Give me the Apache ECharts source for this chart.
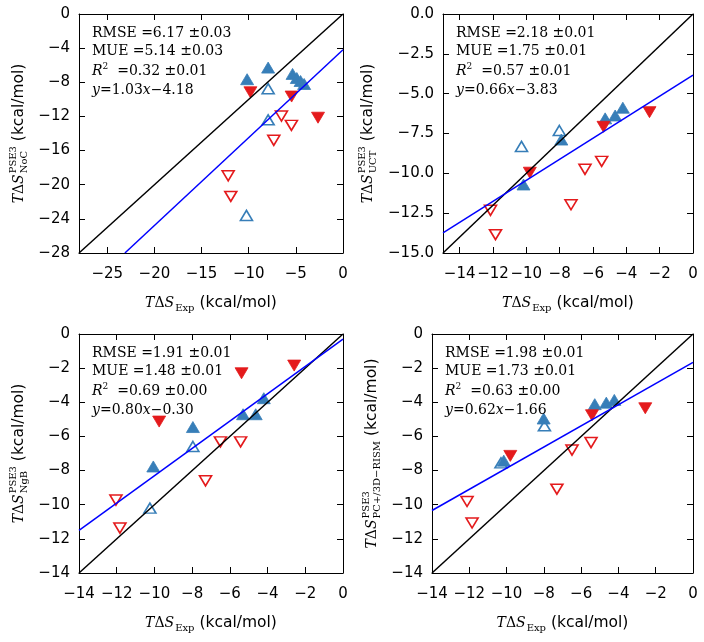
<!DOCTYPE html>
<html><head><meta charset="utf-8">
<script src="https://cdn.jsdelivr.net/npm/echarts@6/dist/echarts.min.js"></script>
<style>html,body{margin:0;padding:0;background:#fff}#c{width:704px;height:642px}</style>
</head><body><div id="c"></div>
<script>
// ---------------- data ----------------
const p1BlueFilled = [[-10.17,-7.64],[-7.94,-6.28],[-5.35,-7.02],[-4.9,-7.5],[-4.5,-7.85],[-4.12,-8.2]];
const p1BlueOpen   = [[-7.94,-8.75],[-7.94,-12.4],[-10.24,-23.6]];
const p1RedFilled  = [[-9.82,-9.17],[-5.45,-9.67],[-2.65,-12.15]];
const p1RedOpen    = [[-6.53,-11.95],[-5.47,-13.05],[-7.34,-14.8],[-12.18,-18.95],[-11.9,-21.37]];
const p1Fit  = [[-23.13,-28],[0,-4.18]];
const p1Diag = [[-28,-28],[0,0]];

const p2BlueFilled = [[-10.17,-10.7],[-7.9,-7.88],[-5.27,-6.55],[-4.67,-6.37],[-4.21,-5.88]];
const p2BlueOpen   = [[-8.02,-7.31],[-10.29,-8.31]];
const p2RedFilled  = [[-9.79,-9.96],[-5.37,-7.08],[-2.61,-6.16]];
const p2RedOpen    = [[-6.48,-9.75],[-5.48,-9.25],[-7.32,-11.97],[-12.15,-12.32],[-11.85,-13.85]];
const p2Fit  = [[-15,-13.73],[0,-3.83]];
const p2Diag = [[-15,-15],[0,0]];

const p3BlueFilled = [[-10.06,-7.76],[-7.96,-5.45],[-5.3,-4.7],[-4.63,-4.7],[-4.2,-3.76]];
const p3BlueOpen   = [[-7.96,-6.59],[-10.24,-10.2]];
const p3RedFilled  = [[-5.38,-2.3],[-2.59,-1.85],[-9.75,-5.13]];
const p3RedOpen    = [[-12.04,-9.73],[-11.83,-11.37],[-7.29,-8.6],[-6.5,-6.32],[-5.43,-6.32]];
const p3Fit  = [[-14,-11.5],[0,-0.3]];
const p3Diag = [[-14,-14],[0,0]];

const p4BlueFilled = [[-10.15,-7.42],[-8.01,-4.95],[-5.27,-4.11],[-4.65,-4.02],[-4.22,-3.86]];
const p4BlueOpen   = [[-7.97,-5.38],[-10.3,-7.55]];
const p4RedFilled  = [[-9.8,-7.14],[-5.42,-4.76],[-2.56,-4.35]];
const p4RedOpen    = [[-6.49,-6.8],[-5.47,-6.36],[-7.3,-9.09],[-12.12,-9.81],[-11.85,-11.07]];
const p4Fit  = [[-14,-10.34],[0,-1.66]];
const p4Diag = [[-14,-14],[0,0]];

// tick values
const p1XTicks = [-25,-20,-15,-10,-5,0];
const p1YTicks = [-28,-24,-20,-16,-12,-8,-4,0];
const p2XTicks = [-14,-12,-10,-8,-6,-4,-2,0];
const p2YTicks = [-15,-12.5,-10,-7.5,-5,-2.5,0];
const p34Ticks = [-14,-12,-10,-8,-6,-4,-2,0];

// statistics text
const p1Stats = ['6.17','0.03','5.14','0.03','0.32','0.01','1.03','4.18'];
const p2Stats = ['2.18','0.01','1.75','0.01','0.57','0.01','0.66','3.83'];
const p3Stats = ['1.91','0.01','1.48','0.01','0.69','0.00','0.80','0.30'];
const p4Stats = ['1.98','0.01','1.73','0.01','0.63','0.00','0.62','1.66'];

const ySubs = ['NoC','UCT','NgB','PC+/3D\u2212RISM'];
const ySup = 'PSE3';
const xSub = 'Exp';
const unitText = '(kcal/mol)';

// ---------------- layout / style ----------------
const grids = [
  {left:79, top:14, width:264, height:239},
  {left:443, top:14, width:250, height:239},
  {left:79, top:334, width:264, height:239},
  {left:432, top:334, width:261, height:239}
];
const panels = [
  {blueF:p1BlueFilled, blueO:p1BlueOpen, redF:p1RedFilled, redO:p1RedOpen, fit:p1Fit, diag:p1Diag,
   xr:[-28,0], yr:[-28,0], xt:p1XTicks, yt:p1YTicks, yd:0, stats:p1Stats, ytx:19},
  {blueF:p2BlueFilled, blueO:p2BlueOpen, redF:p2RedFilled, redO:p2RedOpen, fit:p2Fit, diag:p2Diag,
   xr:[-15,0], yr:[-15,0], xt:p2XTicks, yt:p2YTicks, yd:1, stats:p2Stats, ytx:368},
  {blueF:p3BlueFilled, blueO:p3BlueOpen, redF:p3RedFilled, redO:p3RedOpen, fit:p3Fit, diag:p3Diag,
   xr:[-14,0], yr:[-14,0], xt:p34Ticks, yt:p34Ticks, yd:0, stats:p3Stats, ytx:19},
  {blueF:p4BlueFilled, blueO:p4BlueOpen, redF:p4RedFilled, redO:p4RedOpen, fit:p4Fit, diag:p4Diag,
   xr:[-14,0], yr:[-14,0], xt:p34Ticks, yt:p34Ticks, yd:0, stats:p4Stats, ytx:372}
];

const BLUE = '#377eb8', RED = '#e41a1c';
const SERIF = '"DejaVu Serif"';
const SANS = '"DejaVu Sans"';

function fmt(v, d) {
  let s = d ? v.toFixed(d) : String(v);
  return s.replace('-', '\u2212');
}
function axis(gridIndex, pos, range, ticks, dec, showLabel, isX) {
  return {
    type:'value', gridIndex, position:pos, min:range[0], max:range[1],
    axisLine:{show:true, onZero:false, lineStyle:{color:'#000', width:1}},
    axisTick:{show:true, inside:true, length:6, customValues:ticks, lineStyle:{color:'#000', width:1}},
    axisLabel:{show:showLabel, customValues:ticks, margin: isX ? 14 : 9, color:'#000',
      fontFamily:SANS, fontSize:15, formatter:(v)=>fmt(v, dec)},
    splitLine:{show:false}
  };
}

const xAxes = [], yAxes = [], series = [];
panels.forEach((p, i) => {
  xAxes.push(axis(i, 'bottom', p.xr, p.xt, 0, true, true));
  xAxes.push(axis(i, 'top', p.xr, p.xt, 0, false, true));
  yAxes.push(axis(i, 'left', p.yr, p.yt, p.yd, true, false));
  yAxes.push(axis(i, 'right', p.yr, p.yt, p.yd, false, false));
  const xi = 2*i, yi = 2*i;
  const sc = (data, filled, color, down) => ({
    type:'scatter', xAxisIndex:xi, yAxisIndex:yi, data, symbol:'triangle',
    symbolSize: filled ? [13,11] : [12,10],
    symbolRotate: down ? 180 : 0, silent:true, z:2,
    itemStyle: filled ? {color, borderColor:color, borderWidth:0.8, opacity:1}
                      : {color:'rgba(0,0,0,0)', borderColor:color, borderWidth:1.6, opacity:1}
  });
  series.push(sc(p.blueF, true, BLUE, false));
  series.push(sc(p.blueO, false, BLUE, false));
  series.push(sc(p.redF, true, RED, true));
  series.push(sc(p.redO, false, RED, true));
  series.push({type:'line', xAxisIndex:xi, yAxisIndex:yi, data:p.diag, symbol:'none', silent:true, z:3,
    lineStyle:{color:'#000', width:1.5}});
  series.push({type:'line', xAxisIndex:xi, yAxisIndex:yi, data:p.fit, symbol:'none', silent:true, z:3,
    lineStyle:{color:'#0000ff', width:1.5}});
});

// ---------------- text (graphic) ----------------
const ctx = document.createElement('canvas').getContext('2d');
function tw(font, s) { ctx.font = font; return ctx.measureText(s).width; }
const F_MI = 'italic 14px ' + SERIF;
const F_M  = '14px ' + SERIF;
const F_S  = '10px ' + SERIF;
const F_U  = '15.5px ' + SANS;

function txt(x, y, s, font) {
  return {type:'text', x, y, silent:true,
    style:{text:s, font, fill:'#000', align:'left', verticalAlign:'middle', textAlign:'left', textVerticalAlign:'middle'}};
}
// builds a title "TΔS^sup_sub (kcal/mol)" centred at local (0,0)
function titleChildren(sup, sub) {
  const wT = tw(F_MI,'T'), wD = tw(F_M,'\u0394'), wS = tw(F_MI,'S');
  const wSup = sup ? tw(F_S, sup) : 0, wSub = sub ? tw(F_S, sub) : 0;
  const gap = tw(F_U, ' ');
  const wU = tw(F_U, unitText);
  const W = wT + wD + wS + 1 + Math.max(wSup, wSub) + gap + wU;
  let x = -W/2;
  const ch = [];
  ch.push(txt(x, 0, 'T', F_MI)); x += wT;
  ch.push(txt(x, 0, '\u0394', F_M)); x += wD;
  ch.push(txt(x, 0, 'S', F_MI)); x += wS + 1;
  if (sup) ch.push(txt(x, -6, sup, F_S));
  if (sub) ch.push(txt(x, 5, sub, F_S));
  x += Math.max(wSup, wSub) + gap;
  ch.push(txt(x, 0, unitText, F_U));
  return ch;
}

const graphics = [];
const statRich = {
  n:{fontFamily:SERIF, fontSize:14, lineHeight:18},
  i:{fontFamily:SERIF, fontSize:14, fontStyle:'italic', lineHeight:18},
  s:{fontFamily:SERIF, fontSize:9, lineHeight:9, verticalAlign:'top'}
};
const statOffsets = [19, 37, 57, 76];
panels.forEach((p, i) => {
  const g = grids[i];
  const st = p.stats;
  const lines = [
    `{n|RMSE =${st[0]} \u00b1${st[1]}}`,
    `{n|MUE =${st[2]} \u00b1${st[3]}}`,
    `{i|R}{s|2}{n|  =${st[4]} \u00b1${st[5]}}`,
    `{i|y}{n|=${st[6]}}{i|x}{n|\u2212${st[7]}}`
  ];
  lines.forEach((l, k) => {
    graphics.push({type:'text', x:g.left + 13, y:g.top + statOffsets[k], silent:true, z:10,
      style:{text:l, rich:statRich, fill:'#000', align:'left', verticalAlign:'middle', textAlign:'left', textVerticalAlign:'middle'}});
  });
  // x title
  graphics.push({type:'group', x:g.left + g.width/2, y:g.top + g.height + 50, silent:true,
    children:titleChildren(null, xSub)});
  // y title
  graphics.push({type:'group', x:p.ytx, y:g.top + g.height/2, rotation:Math.PI/2, silent:true,
    children:titleChildren(ySup, ySubs[i])});
});

const chart = echarts.init(document.getElementById('c'), null, {renderer:'canvas'});
chart.setOption({
  animation:false,
  backgroundColor:'#fff',
  grid: grids.map(g => Object.assign({containLabel:false, show:false}, g)),
  xAxis: xAxes,
  yAxis: yAxes,
  series,
  graphic: graphics
});
</script></body></html>
